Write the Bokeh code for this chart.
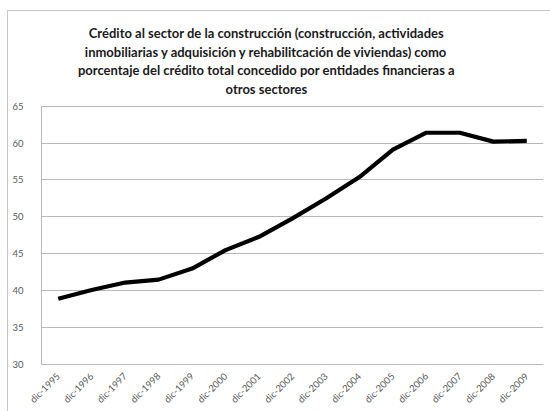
from bokeh.plotting import figure
from bokeh.models import Label, FixedTicker
from bokeh.embed import file_html
from bokeh.resources import INLINE

categories = ["dic-1995", "dic-1996", "dic-1997", "dic-1998", "dic-1999", "dic-2000",
              "dic-2001", "dic-2002", "dic-2003", "dic-2004", "dic-2005", "dic-2006",
              "dic-2007", "dic-2008", "dic-2009"]
values = [38.9, 40.1, 41.1, 41.5, 43.0, 45.5, 47.3, 49.8, 52.5, 55.4, 59.1, 61.4, 61.4, 60.2, 60.3]
y_ticks = [30, 35, 40, 45, 50, 55, 60, 65]
title_lines = [
    "Crédito al sector de la construcción (construcción, actividades",
    "inmobiliarias y adquisición y rehabilitcación de viviendas) como",
    "porcentaje del crédito total concedido por entidades financieras a",
    "otros sectores",
]
title_x = 6.72
title_y = [74.85, 72.35, 69.84, 67.34]

p = figure(x_range=categories, y_range=(30, 77.15), width=545, height=404,
           output_backend="svg", toolbar_location=None,
           min_border_left=33, min_border_right=10, min_border_top=5, min_border_bottom=51)
p.styles = {"border-left": "1px solid #c8c8c8", "border-top": "1px solid #c8c8c8",
            "margin-top": "10px", "margin-left": "7px"}
p.outline_line_color = None
p.background_fill_color = "white"

p.line(categories, values, line_color="black", line_width=4.2, line_join="round")

p.yaxis.ticker = FixedTicker(ticks=y_ticks)
p.yaxis.bounds = (30, 65)
for ax in (p.xaxis, p.yaxis):
    ax.axis_line_color = "#b8b8b8"
    ax.major_tick_line_color = None
    ax.minor_tick_line_color = None
    ax.major_label_text_color = "#595959"
    ax.major_label_text_font = "Lato"
    ax.major_label_text_font_size = "9.5px"
p.xaxis.major_label_orientation = 0.785
p.xaxis.major_label_standoff = 4
p.yaxis.major_label_standoff = 12
p.xgrid.grid_line_color = None
p.ygrid.grid_line_color = "#b8b8b8"
p.ygrid.grid_line_width = 1

for txt, yy in zip(title_lines, title_y):
    p.add_layout(Label(x=title_x, y=yy, text=txt,
                       text_align="center", text_baseline="middle",
                       text_font="Lato", text_font_style="bold",
                       text_font_size="13px", text_color="#1a1a1a"))

open("out.html", "w").write(file_html(p, INLINE))
